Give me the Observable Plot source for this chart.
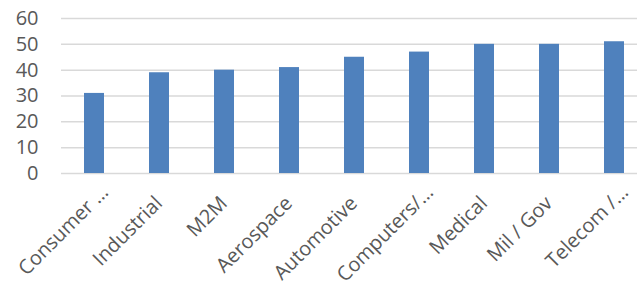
<!DOCTYPE html>
<html>
<head>
<meta charset="utf-8">
<script src="https://cdn.jsdelivr.net/npm/d3@7"></script>
<script src="https://cdn.jsdelivr.net/npm/@observablehq/plot@0.6"></script>
<style>
  html, body { margin: 0; padding: 0; background: #fff; }
  svg { display: block; }
</style>
</head>
<body>
<div id="chart"></div>
<script>
const categories = ["Consumer …", "Industrial", "M2M", "Aerospace", "Automotive", "Computers/…", "Medical", "Mil / Gov", "Telecom /…"];
const values = [31, 39, 40, 41, 45, 47, 50, 50, 51];
const yTicks = [0, 10, 20, 30, 40, 50, 60];

const data = categories.map((c, i) => ({category: c, value: values[i]}));
const isTruncated = (d) => d.category.endsWith("…");

const labelStyle = {x: "category", frameAnchor: "bottom", text: "category", rotate: -45, textAnchor: "end", lineAnchor: "bottom", fontSize: 20, fill: "#595959"};

const chart = Plot.plot({
  width: 637,
  height: 289,
  marginLeft: 61,
  marginRight: 0,
  marginTop: 18,
  marginBottom: 116,
  style: {fontFamily: "'Open Sans', sans-serif", color: "#595959", background: "#fff"},
  x: {domain: categories, range: [60.7, 647.5], paddingInner: 0.686, paddingOuter: 0.343, axis: null},
  y: {domain: [0, 60], ticks: yTicks, axis: null},
  marks: [
    Plot.ruleY(yTicks, {stroke: "#d9d9d9", strokeWidth: 1.5}),
    Plot.barY(data, {x: "category", y: "value", fill: "#4f81bd"}),
    Plot.axisY({ticks: yTicks, tickSize: 0, tickPadding: 23, fontSize: 20, fill: "#595959", label: null}),
    Plot.text(data.filter(d => !isTruncated(d)), {...labelStyle, dx: 4, dy: 31}),
    Plot.text(data.filter(isTruncated), {...labelStyle, dx: 15, dy: 20})
  ]
});
document.getElementById("chart").appendChild(chart);
</script>
</body>
</html>
